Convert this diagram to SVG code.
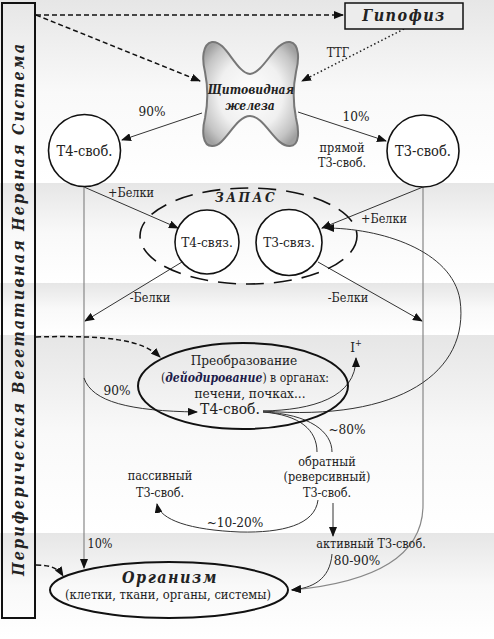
<svg xmlns="http://www.w3.org/2000/svg" width="494" height="639" viewBox="0 0 494 639">
<defs>
<linearGradient id="band" x1="0" y1="0" x2="0" y2="1">
<stop offset="0" stop-color="#e6e6e6"/>
<stop offset="0.5" stop-color="#f9f9f9"/>
<stop offset="1" stop-color="#ffffff"/>
</linearGradient>
<radialGradient id="thy" cx="0.5" cy="0.5" r="0.62">
<stop offset="0" stop-color="#ffffff"/>
<stop offset="0.55" stop-color="#f0f0f0"/>
<stop offset="0.85" stop-color="#c4c4c4"/>
<stop offset="1" stop-color="#a0a0a0"/>
</radialGradient>
<marker id="ah" markerWidth="10" markerHeight="8" refX="9" refY="4" orient="auto" markerUnits="userSpaceOnUse">
<path d="M0,0 L10,4 L0,8 Z" fill="#111"/>
</marker>
<style>
.t{font-family:'DejaVu Serif Condensed','DejaVu Serif',serif;fill:#222;text-anchor:middle}
.s13{font-size:12.5px}
.s14{font-size:13.5px}
.s15{font-size:14.5px}
.bi{font-weight:bold;font-style:italic}
.ln{fill:none;stroke:#333;stroke-width:1}
.gl{fill:none;stroke:#888;stroke-width:1.2}
.dsh{fill:none;stroke:#111;stroke-width:1.5;stroke-dasharray:5,3}
.dot{fill:none;stroke:#222;stroke-width:1.5;stroke-dasharray:1.5,2.5}
.nd{fill:#fff;stroke:#111;stroke-width:1.6}
</style>
</defs>

<g id="background">
<rect x="0" y="0" width="494" height="183" fill="url(#band)"/>
<rect x="0" y="183" width="494" height="100" fill="url(#band)"/>
<rect x="0" y="283" width="494" height="52" fill="url(#band)"/>
<rect x="0" y="335" width="494" height="198" fill="url(#band)"/>
<rect x="0" y="533" width="494" height="106" fill="url(#band)"/>
</g>

<g id="ans">
<rect x="2" y="3" width="33" height="615" fill="none" stroke="#111" stroke-width="2"/>
<text class="t bi" style="font-size:16px" transform="translate(24,310) rotate(-90)" textLength="532" lengthAdjust="spacing">Периферическая Вегетативная Нервная Система</text>
</g>

<g id="connectors">
<path class="dsh" d="M36,15 L343,15" marker-end="url(#ah)"/>
<path class="dsh" d="M36,15 L200,81" marker-end="url(#ah)"/>
<path class="dot" d="M404,29 L302,81" marker-end="url(#ah)"/>
<path class="ln" d="M202,113 L122,140" marker-end="url(#ah)"/>
<path class="ln" d="M298,112 L386,141" marker-end="url(#ah)"/>
<path class="ln" d="M84,187 L178,228" marker-end="url(#ah)"/>
<path class="ln" d="M423,187 L322,228" marker-end="url(#ah)"/>
<path class="ln" d="M182,262 L85,321" marker-end="url(#ah)"/>
<path class="ln" d="M318,262 L422,321" marker-end="url(#ah)"/>
<path class="gl" d="M84,187 L84,568" marker-end="url(#ah)"/>
<path class="gl" d="M423,187 L423,505 C423,540 400,580 292,590" marker-end="url(#ah)"/>
<path class="dsh" d="M36,337 C110,335 142,340 160,357" marker-end="url(#ah)"/>
<path class="ln" d="M84,378 C92,402 130,411 197,412" marker-end="url(#ah)"/>
<path class="ln" d="M263,411 C312,410 356,398 356,358" marker-end="url(#ah)"/>
<path class="ln" d="M263,411 C400,422 470,372 460,300 C452,250 380,228 325,228" marker-end="url(#ah)"/>
<path class="ln" d="M263,412 C300,415 317,430 317,452"/>
<path class="ln" d="M263,412 C310,414 332,432 332,452"/>
<path class="ln" d="M318,500 C315,525 282,533 240,532 C190,530 160,520 157,504" marker-end="url(#ah)"/>
<path class="ln" d="M333,503 L333,536" marker-end="url(#ah)"/>
<path class="ln" d="M332,554 C330,580 312,588 292,590" marker-end="url(#ah)"/>
<path class="dsh" d="M36,565 C50,565 58,568 63,576" marker-end="url(#ah)"/>
</g>

<g id="hypophysis">
<rect x="345" y="3" width="118" height="26" fill="#ececec" stroke="#111" stroke-width="1.5"/>
<text class="t bi" x="404" y="21" style="font-size:16px;letter-spacing:1.5px">Гипофиз</text>
</g>

<g id="thyroid">
<path d="M212,42 C226,40 236,73 250,74 C264,73 275,40 290,42 C300,44 299,60 296,72 C293,87 293,103 296,118 C299,130 300,146 290,146 C275,147 265,116 250,116 C235,116 225,147 212,146 C202,146 202,130 205,118 C208,103 208,87 205,72 C202,60 202,44 212,42 Z" fill="url(#thy)" stroke="#777" stroke-width="2"/>
<text class="t bi" x="251" y="94" style="font-size:12px" fill="#1c1c3a">Щитовидная</text>
<text class="t bi" x="250" y="110" style="font-size:12px" fill="#1c1c3a">железа</text>
</g>

<g id="t4free">
<circle class="nd" cx="84.5" cy="150.5" r="36"/>
<text class="t s15" x="84.5" y="156">Т4-своб.</text>
</g>

<g id="t3free">
<circle class="nd" cx="423" cy="151" r="36"/>
<text class="t s15" x="423" y="156">Т3-своб.</text>
</g>

<g id="reserve">
<ellipse cx="248.5" cy="236" rx="108.5" ry="48" fill="none" stroke="#111" stroke-width="1.6" stroke-dasharray="18,10"/>
<text class="t bi s14" x="246" y="202" style="letter-spacing:2.5px">ЗАПАС</text>
</g>

<g id="t4bound">
<circle class="nd" cx="207" cy="242" r="32"/>
<text class="t s14" x="207" y="247">Т4-связ.</text>
</g>

<g id="t3bound">
<circle class="nd" cx="289" cy="242.5" r="33"/>
<text class="t s14" x="289" y="247">Т3-связ.</text>
</g>

<g id="conversion">
<ellipse cx="243" cy="386" rx="105" ry="43" fill="none" stroke="#111" stroke-width="2"/>
<text class="t s14" x="244" y="365" fill="#6a4a2a">Преобразование</text>
<text class="t" x="245" y="382" style="font-size:13px" fill="#2a2040" textLength="168" lengthAdjust="spacingAndGlyphs">(<tspan class="bi" fill="#1c1c4a">дейодирование</tspan>) в органах:</text>
<text class="t s14" x="250" y="398" fill="#2a2040">печени, почках...</text>
<text class="t" x="230" y="414" style="font-size:15.5px" fill="#14206a">Т4-своб.</text>
</g>

<g id="organism">
<ellipse cx="169" cy="590" rx="119" ry="28" fill="none" stroke="#111" stroke-width="2"/>
<text class="t bi" x="170" y="583" style="font-size:16px;letter-spacing:1.5px" fill="#1a1a2a">Организм</text>
<text class="t s14" x="168" y="599" fill="#2a2040" textLength="206" lengthAdjust="spacingAndGlyphs">(клетки, ткани, органы, системы)</text>
</g>

<g id="labels">
<text class="t s14" x="152" y="116">90%</text>
<text class="t s14" x="356" y="121">10%</text>
<text class="t s13" x="342" y="152">прямой</text>
<text class="t s13" x="342" y="167">Т3-своб.</text>
<text class="t s13" x="338" y="57">ТТГ</text>
<text class="t s13" x="131" y="197">+Белки</text>
<text class="t s13" x="384" y="223">+Белки</text>
<text class="t s13" x="150" y="302">-Белки</text>
<text class="t s13" x="348" y="302">-Белки</text>
<text class="t s14" x="117" y="395">90%</text>
<text class="t s14" x="356" y="352">I<tspan style="font-size:9px" dy="-6">+</tspan></text>
<text class="t s14" x="347" y="434">~80%</text>
<text class="t s13" x="327" y="466">обратный</text>
<text class="t s13" x="327" y="481">(реверсивный)</text>
<text class="t s13" x="327" y="497">Т3-своб.</text>
<text class="t s13" x="160" y="480" fill="#4a1a1a">пассивный</text>
<text class="t s13" x="160" y="497" fill="#4a1a1a">Т3-своб.</text>
<text class="t s14" x="235" y="527">~10-20%</text>
<text class="t s13" x="100" y="548">10%</text>
<text class="t s13" x="371" y="548">активный Т3-своб.</text>
<text class="t s14" x="357" y="565">80-90%</text>
</g>
</svg>
